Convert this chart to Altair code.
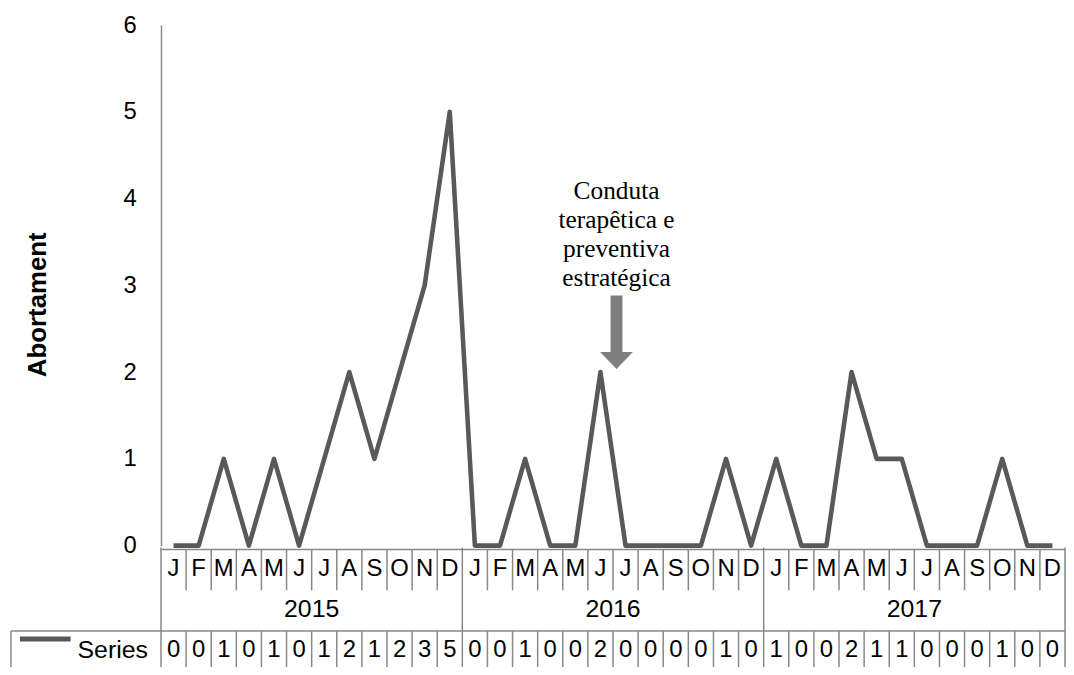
import altair as alt
import pandas as pd

months = ["J", "F", "M", "A", "M", "J", "J", "A", "S", "O", "N", "D"]
years = ["2015", "2016", "2017"]
values_2015 = [0, 0, 1, 0, 1, 0, 1, 2, 1, 2, 3, 5]
values_2016 = [0, 0, 1, 0, 0, 2, 0, 0, 0, 0, 1, 0]
values_2017 = [1, 0, 0, 2, 1, 1, 0, 0, 0, 1, 0, 0]
series_name = "Series"
y_title = "Abortament"
y_ticks = [0, 1, 2, 3, 4, 5, 6]
annotation_lines = ["Conduta", "terapêtica e", "preventiva", "estratégica"]
annotation_x = [17.64]
annotation_text_y = [4.0]
arrow_center_y = [2.46]

all_values = values_2015 + values_2016 + values_2017
n = len(all_values)
df = pd.DataFrame({
    "idx": list(range(n)),
    "month": months * len(years),
    "value": all_values,
})
df_years = pd.DataFrame({"year": years, "center": [i * 12 + 5.5 for i in range(len(years))]})
bounds = [k - 0.5 for k in range(n + 1)]
year_bounds = [-0.5, 11.5, 23.5, 35.5]
df_month_seps = pd.DataFrame({"xb": [b for b in bounds if b not in year_bounds]})
df_year_seps = pd.DataFrame({"xb": year_bounds})
df_span = pd.DataFrame({"x0": [-0.5], "x1": [n - 0.5]})
df_anno = pd.DataFrame({"ax": annotation_x, "ty": annotation_text_y, "ay": arrow_center_y})

W, H = 910, 524
LINE_C = "#595959"
GRID_C = "#888888"
SANS = "Liberation Sans"

xscale = alt.Scale(domain=[-0.5, n - 0.5], nice=False, zero=False)
yscale = alt.Scale(domain=[0, 6], nice=False, zero=False)

base = alt.Chart(df)

line = base.mark_line(color=LINE_C, strokeWidth=4.6, strokeJoin="round").encode(
    x=alt.X("idx:Q", scale=xscale, axis=None),
    y=alt.Y("value:Q", scale=yscale, axis=alt.Axis(
        values=y_ticks, format="d", ticks=False, grid=False, labelPadding=25,
        labelFont=SANS, labelFontSize=24, labelColor="black",
        domainColor=GRID_C, domainWidth=1.5,
        title=y_title, titleFont=SANS, titleFontSize=26, titleFontWeight="bold",
        titleColor="black", titleAngle=270, titleX=-124, titleY=281,
        titleAlign="center", titleBaseline="middle")),
)

# table lines
xaxis_line = alt.Chart(df_span).mark_rule(color=GRID_C, strokeWidth=1.5).encode(
    x="x0:Q", x2="x1:Q", y=alt.value(528))
month_seps = alt.Chart(df_month_seps).mark_rule(color=GRID_C, strokeWidth=1.5).encode(
    x="xb:Q", y=alt.value(528), y2=alt.value(569))
year_seps = alt.Chart(df_year_seps).mark_rule(color=GRID_C, strokeWidth=1.5).encode(
    x="xb:Q", y=alt.value(526), y2=alt.value(662))
data_seps = alt.Chart(df_month_seps).mark_rule(color=GRID_C, strokeWidth=1.5).encode(
    x="xb:Q", y=alt.value(610), y2=alt.value(662))
data_top = alt.Chart(df_span).mark_rule(color=GRID_C, strokeWidth=1.5).encode(
    x=alt.value(-151), x2=alt.value(W), y=alt.value(610))
data_left = alt.Chart(df_span).mark_rule(color=GRID_C, strokeWidth=1.5).encode(
    x=alt.value(-151), y=alt.value(610), y2=alt.value(662))

month_text = base.mark_text(font=SANS, fontSize=24, color="black", baseline="middle").encode(
    x="idx:Q", y=alt.value(548), text="month:N")
year_text = alt.Chart(df_years).mark_text(font=SANS, fontSize=25, color="black", baseline="middle").encode(
    x="center:Q", y=alt.value(588), text="year:N")
value_text = base.mark_text(font=SANS, fontSize=24, color="black", baseline="middle").encode(
    x="idx:Q", y=alt.value(629), text=alt.Text("value:Q", format="d"))

legend_swatch = alt.Chart(df_span).mark_rule(color=LINE_C, strokeWidth=5).encode(
    x=alt.value(-142), x2=alt.value(-91), y=alt.value(618))
legend_text = alt.Chart(df_span).mark_text(font=SANS, fontSize=25, color="black", align="left",
                                           baseline="middle", text=series_name).encode(
    x=alt.value(-84), y=alt.value(629))

anno_text = alt.Chart(df_anno).mark_text(font="Liberation Serif", fontSize=25.5, color="black",
                                         align="center", baseline="alphabetic", lineHeight=29.5,
                                         text=annotation_lines).encode(
    x="ax:Q", y="ty:Q")

arrow_path = ("M-0.162,-1 L0.162,-1 L0.162,0.54 L0.446,0.54 L0,1 "
              "L-0.446,0.54 L-0.162,0.54 Z")
arrow = alt.Chart(df_anno).mark_point(shape=arrow_path, size=74 * 74, filled=True,
                                      color="#7f7f7f", opacity=1, strokeWidth=0).encode(
    x="ax:Q", y="ay:Q")

chart = alt.layer(
    line, xaxis_line, month_seps, year_seps, data_seps, data_top, data_left,
    month_text, year_text, value_text, legend_swatch, legend_text,
    anno_text, arrow,
).properties(
    width=W, height=H,
    autosize=alt.AutoSizeParams(type="none"),
    padding={"left": 154, "top": 15, "right": 1, "bottom": 120},
).configure_view(stroke=None)

chart.save("out.html", embed_options={"renderer": "svg", "actions": False})
